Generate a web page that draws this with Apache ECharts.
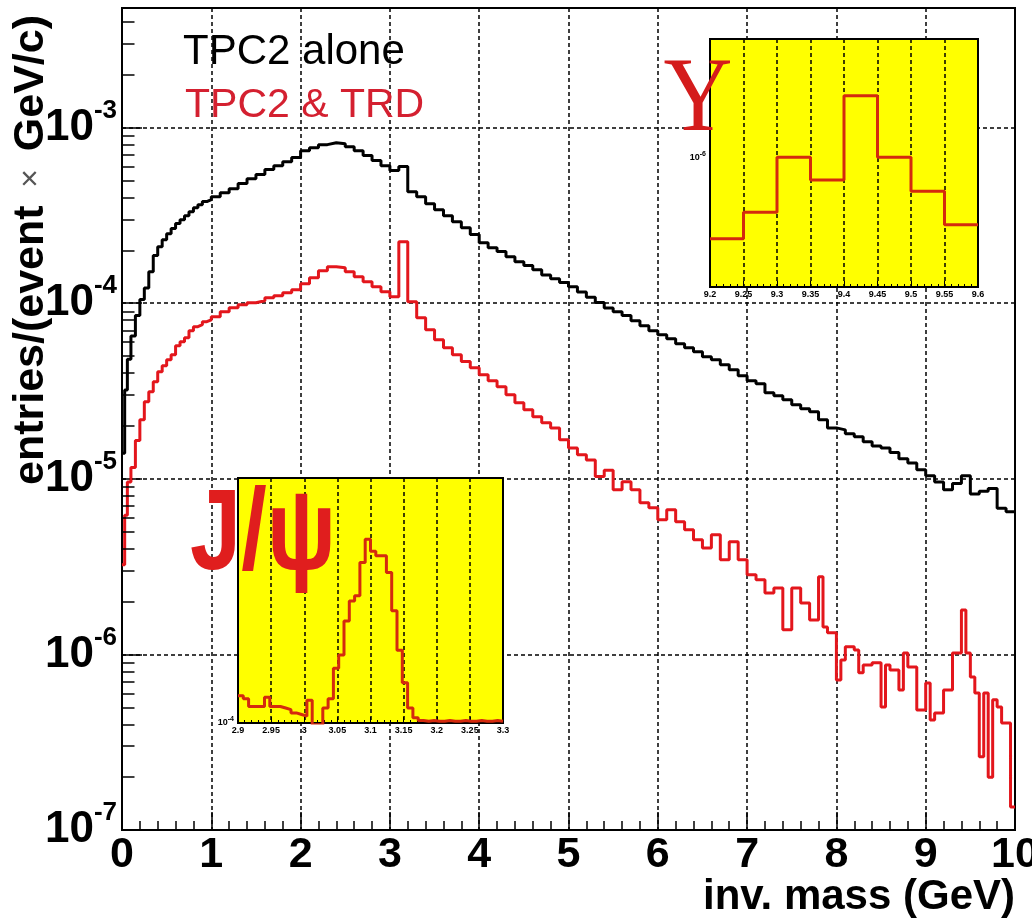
<!DOCTYPE html>
<html>
<head>
<meta charset="utf-8">
<title>inv. mass</title>
<script src="https://cdn.jsdelivr.net/npm/echarts@6.0.0/dist/echarts.min.js"></script>
<style>
  html, body { margin: 0; padding: 0; background: #fff; }
  #chart { width: 1032px; height: 918px; }
</style>
</head>
<body>
<div id="chart"></div>
<script>
// TPC2 alone: lower bin edge (GeV) and entries/(event x GeV/c)
var aloneEdges = [0, 0.03, 0.06, 0.1, 0.15, 0.2, 0.25, 0.3, 0.35, 0.4, 0.45, 0.5, 0.55, 0.6, 0.65, 0.7, 0.75, 0.8, 0.85, 0.9, 0.95,
  1.0, 1.1, 1.2, 1.3, 1.4, 1.5, 1.6, 1.7, 1.8, 1.9,
  2.0, 2.1, 2.2, 2.3, 2.4, 2.5, 2.6, 2.7, 2.8, 2.9,
  3.0, 3.1, 3.2, 3.3, 3.4, 3.5, 3.6, 3.7, 3.8, 3.9,
  4.0, 4.1, 4.2, 4.3, 4.4, 4.5, 4.6, 4.7, 4.8, 4.9,
  5.0, 5.1, 5.2, 5.3, 5.4, 5.5, 5.6, 5.7, 5.8, 5.9,
  6.0, 6.1, 6.2, 6.3, 6.4, 6.5, 6.6, 6.7, 6.8, 6.9,
  7.0, 7.1, 7.2, 7.3, 7.4, 7.5, 7.6, 7.7, 7.8, 7.9,
  8.0, 8.1, 8.2, 8.3, 8.4, 8.5, 8.6, 8.7, 8.8, 8.9,
  9.0, 9.1, 9.2, 9.3, 9.4, 9.5, 9.6, 9.7, 9.8, 9.9];
var aloneValues = [1.4e-5, 3.2e-5, 4.8e-5, 6.5e-5, 8.5e-5, 1.05e-4, 1.22e-4, 1.51e-4, 1.87e-4, 2.10e-4, 2.30e-4, 2.49e-4, 2.66e-4, 2.84e-4, 2.99e-4, 3.15e-4, 3.32e-4, 3.50e-4, 3.64e-4, 3.79e-4, 3.89e-4,
  4.04e-4, 4.26e-4, 4.49e-4, 4.80e-4, 5.12e-4, 5.40e-4, 5.77e-4, 6.07e-4, 6.40e-4, 6.75e-4,
  7.39e-4, 7.69e-4, 8.00e-4, 8.21e-4, 8.10e-4, 7.79e-4, 7.39e-4, 6.93e-4, 6.49e-4, 6.07e-4,
  5.69e-4, 6.00e-4, 4.32e-4, 4.04e-4, 3.69e-4, 3.41e-4, 3.15e-4, 2.91e-4, 2.69e-4, 2.46e-4,
  2.21e-4, 2.07e-4, 1.97e-4, 1.84e-4, 1.72e-4, 1.64e-4, 1.55e-4, 1.45e-4, 1.38e-4, 1.31e-4,
  1.24e-4, 1.16e-4, 1.08e-4, 1.01e-4, 9.4e-5, 8.95e-5, 8.5e-5, 7.95e-5, 7.44e-5, 6.97e-5,
  6.62e-5, 6.28e-5, 5.88e-5, 5.58e-5, 5.29e-5, 4.96e-5, 4.77e-5, 4.46e-5, 4.18e-5, 3.86e-5,
  3.62e-5, 3.48e-5, 3.09e-5, 2.97e-5, 2.82e-5, 2.64e-5, 2.51e-5, 2.41e-5, 2.17e-5, 1.95e-5,
  1.90e-5, 1.805e-5, 1.735e-5, 1.625e-5, 1.54e-5, 1.50e-5, 1.41e-5, 1.30e-5, 1.23e-5, 1.125e-5,
  1.04e-5, 9.6e-6, 8.65e-6, 9.4e-6, 1.04e-5, 8.2e-6, 8.5e-6, 8.8e-6, 6.8e-6, 6.5e-6];

// TPC2 & TRD
var trdEdges = [0, 0.03, 0.06, 0.1, 0.15, 0.2, 0.25, 0.3, 0.35, 0.4, 0.45, 0.5, 0.55, 0.6, 0.65, 0.7, 0.75, 0.8, 0.85, 0.9, 0.95,
  1.0, 1.1, 1.2, 1.3, 1.4, 1.5, 1.6, 1.7, 1.8, 1.9,
  2.0, 2.1, 2.2, 2.3, 2.4, 2.5, 2.6, 2.7, 2.8, 2.9,
  3.0, 3.1, 3.2, 3.3, 3.4, 3.5, 3.6, 3.7, 3.8, 3.9,
  4.0, 4.1, 4.2, 4.3, 4.4, 4.5, 4.6, 4.7, 4.8, 4.9,
  5.0, 5.1, 5.2, 5.3, 5.4, 5.5, 5.6, 5.7, 5.8, 5.9,
  6.0, 6.1, 6.2, 6.3, 6.4, 6.5, 6.6, 6.7, 6.8, 6.9,
  7.0, 7.1, 7.2, 7.3, 7.4, 7.5, 7.6, 7.7,
  7.8, 7.85, 7.9, 8.0, 8.05, 8.1, 8.2, 8.25, 8.3, 8.4, 8.5, 8.55, 8.6, 8.7, 8.75, 8.8, 8.9,
  9.0, 9.05, 9.1, 9.2, 9.3, 9.4, 9.45, 9.5, 9.55, 9.6, 9.65, 9.7, 9.75, 9.8, 9.85, 9.95];
var trdValues = [3.24e-6, 6.2e-6, 9.6e-6, 1.16e-5, 1.65e-5, 2.17e-5, 2.75e-5, 3.13e-5, 3.57e-5, 4.07e-5, 4.40e-5, 4.77e-5, 5.09e-5, 5.73e-5, 6.04e-5, 6.36e-5, 6.97e-5, 7.35e-5, 7.54e-5, 7.85e-5, 8.05e-5,
  8.38e-5, 8.95e-5, 9.43e-5, 9.80e-5, 1.007e-4, 1.033e-4, 1.075e-4, 1.104e-4, 1.148e-4, 1.194e-4,
  1.291e-4, 1.397e-4, 1.531e-4, 1.614e-4, 1.593e-4, 1.511e-4, 1.416e-4, 1.326e-4, 1.242e-4, 1.163e-4,
  1.089e-4, 2.24e-4, 1.02e-4, 8.27e-5, 7.06e-5, 6.19e-5, 5.58e-5, 5.09e-5, 4.65e-5, 4.29e-5,
  3.91e-5, 3.62e-5, 3.34e-5, 3.01e-5, 2.71e-5, 2.47e-5, 2.26e-5, 2.085e-5, 1.95e-5, 1.67e-5,
  1.50e-5, 1.37e-5, 1.28e-5, 1.03e-5, 1.12e-5, 8.66e-6, 9.62e-6, 8.66e-6, 7.30e-6, 6.84e-6,
  5.84e-6, 6.66e-6, 5.69e-6, 5.12e-6, 4.49e-6, 4.04e-6, 4.80e-6, 3.46e-6, 4.38e-6, 3.46e-6,
  2.84e-6, 2.66e-6, 2.24e-6, 2.39e-6, 1.38e-6, 2.39e-6, 1.965e-6, 1.57e-6,
  2.77e-6, 1.434e-6, 1.327e-6, 7.15e-7, 9.3e-7, 1.104e-6, 1.06e-6, 7.85e-7, 8.71e-7, 8.95e-7, 5.02e-7, 8.71e-7, 8.16e-7, 6.28e-7, 1.02e-6, 8.49e-7, 4.83e-7,
  6.88e-7, 4.23e-7, 4.64e-7, 6.28e-7, 1.02e-6, 1.79e-6, 1.02e-6, 7.44e-7, 6.03e-7, 2.61e-7, 6.03e-7, 2.0e-7, 5.51e-7, 5.02e-7, 4.07e-7, 1.35e-7];

// J/psi inset (TPC2 & TRD, 2.9 - 3.3 GeV)
var jpsiEdges = [2.900, 2.908, 2.916, 2.924, 2.932, 2.940, 2.948, 2.956, 2.964, 2.972,
  2.980, 2.988, 2.996, 3.004, 3.012, 3.020, 3.028, 3.036, 3.044, 3.052,
  3.060, 3.068, 3.076, 3.084, 3.092, 3.100, 3.108, 3.116, 3.124, 3.132,
  3.140, 3.148, 3.156, 3.164, 3.172, 3.180, 3.188, 3.196, 3.204, 3.212,
  3.220, 3.228, 3.236, 3.244, 3.252, 3.260, 3.268, 3.276, 3.284, 3.292];
var jpsiValues = [1.17e-4, 1.15e-4, 1.10e-4, 1.10e-4, 1.10e-4, 1.16e-4, 1.10e-4, 1.10e-4, 1.09e-4, 1.08e-4,
  1.06e-4, 1.05e-4, 1.04e-4, 1.14e-4, 0.99e-4, 0.99e-4, 1.09e-4, 1.15e-4, 1.37e-4, 1.48e-4,
  1.80e-4, 2.02e-4, 2.08e-4, 2.52e-4, 2.88e-4, 2.69e-4, 2.62e-4, 2.62e-4, 2.38e-4, 1.91e-4,
  1.52e-4, 1.26e-4, 1.09e-4, 1.03e-4, 1.015e-4, 1.01e-4, 1.015e-4, 1.01e-4, 1.01e-4, 1.015e-4,
  1.01e-4, 1.01e-4, 1.015e-4, 1.01e-4, 1.01e-4, 1.015e-4, 1.01e-4, 1.01e-4, 1.015e-4, 1.01e-4];
var jpsiGrid = [2e-4, 3e-4];

// Upsilon inset (9.2 - 9.6 GeV)
var upsEdges = [9.2, 9.25, 9.3, 9.35, 9.4, 9.45, 9.5, 9.55];
var upsValues = [4.7e-7, 6.0e-7, 1.0e-6, 8.1e-7, 1.77e-6, 1.0e-6, 7.3e-7, 5.35e-7];
var upsGrid = [2e-6, 1e-6, 9e-7, 8e-7, 7e-7, 6e-7, 5e-7, 4e-7];

// log minor ticks on the main y axis
var decades = [-7, -6, -5, -4, -3];
var minorMult = [2, 3, 4, 5, 6, 7, 8, 9];

var SANS = '"Liberation Sans", Arial, Helvetica, sans-serif';
var RED = '#e3161c';
var INSET_RED = '#d42a0e';
var DASH = {color: '#000', width: 1.5, type: [4, 3]};

function histo(edges, values, end) {
  var out = [];
  for (var i = 0; i < edges.length; i++) out.push([edges[i], values[i]]);
  out.push([end, values[values.length - 1]]);
  return out;
}

function powLabel(v) {
  var e = Math.log10(v);
  var r = Math.round(e);
  if (Math.abs(e - r) > 1e-6) return '';
  return '{b|10}{s|' + r + '}';
}

var yMax = 4.8e-3;
var leftTicks = [];
for (var d of decades) {
  for (var m of minorMult) {
    var v = m * Math.pow(10, d);
    if (v < yMax) leftTicks.push([{coord: [0, v]}, {coord: [0.14, v]}]);
  }
}

var option = {
  animation: false,
  backgroundColor: '#fff',
  grid: [
    {left: 122, top: 8, width: 893, height: 822, show: true, borderColor: '#000', borderWidth: 2, z: 0,
     containLabel: false, outerBoundsMode: 'none'},
    {left: 710, top: 39, width: 268, height: 248, show: true, backgroundColor: '#ffff00', borderColor: '#000', borderWidth: 2, z: 10,
     containLabel: false, outerBoundsMode: 'none'},
    {left: 238, top: 478, width: 265, height: 245, show: true, backgroundColor: '#ffff00', borderColor: '#000', borderWidth: 2, z: 10,
     containLabel: false, outerBoundsMode: 'none'}
  ],
  xAxis: [
    {
      gridIndex: 0, type: 'value', min: 0, max: 10, interval: 1,
      axisLine: {show: true, onZero: false, lineStyle: {color: '#000', width: 2}},
      axisTick: {show: true, inside: true, length: 18, lineStyle: {color: '#000', width: 1.5}},
      minorTick: {show: true, splitNumber: 5, length: 9, lineStyle: {color: '#000', width: 1.5}},
      splitLine: {show: true, lineStyle: DASH},
      axisLabel: {color: '#000', fontSize: 43, fontWeight: 'bold', fontFamily: SANS, margin: 4}
    },
    {
      gridIndex: 1, type: 'value', min: 9.2, max: 9.6, interval: 0.05, z: 11,
      axisLine: {show: true, onZero: false, lineStyle: {color: '#000', width: 2}},
      axisTick: {show: true, inside: true, length: 6, lineStyle: {color: '#000'}},
      minorTick: {show: true, splitNumber: 5, length: 3, lineStyle: {color: '#000'}},
      splitLine: {show: true, lineStyle: DASH},
      axisLabel: {color: '#000', fontSize: 9, fontWeight: 'bold', fontFamily: SANS, margin: 3}
    },
    {
      gridIndex: 2, type: 'value', min: 2.9, max: 3.3, interval: 0.05, z: 11,
      axisLine: {show: true, onZero: false, lineStyle: {color: '#000', width: 2}},
      axisTick: {show: true, inside: true, length: 6, lineStyle: {color: '#000'}},
      minorTick: {show: true, splitNumber: 5, length: 3, lineStyle: {color: '#000'}},
      splitLine: {show: true, lineStyle: DASH},
      axisLabel: {color: '#000', fontSize: 9, fontWeight: 'bold', fontFamily: SANS, margin: 3}
    }
  ],
  yAxis: [
    {
      gridIndex: 0, type: 'log', logBase: 10, min: 1e-7, max: yMax,
      axisLine: {show: true, lineStyle: {color: '#000', width: 2}},
      axisTick: {show: true, inside: true, length: 20, lineStyle: {color: '#000', width: 1.5}},
      splitLine: {show: true, lineStyle: DASH},
      axisLabel: {
        margin: 5, formatter: powLabel,
        rich: {
          b: {fontSize: 44, fontWeight: 'bold', fontFamily: SANS, color: '#000', lineHeight: 60},
          s: {fontSize: 26, fontWeight: 'bold', fontFamily: SANS, color: '#000', lineHeight: 26, verticalAlign: 'top'}
        }
      }
    },
    {
      gridIndex: 1, type: 'log', logBase: 10, min: 3e-7, max: 3e-6, z: 11,
      axisLine: {show: true, lineStyle: {color: '#000', width: 2}},
      axisTick: {show: false},
      splitLine: {show: false},
      axisLabel: {
        margin: 4, formatter: powLabel,
        rich: {
          b: {fontSize: 9, fontWeight: 'bold', fontFamily: SANS, color: '#000', lineHeight: 14},
          s: {fontSize: 7, fontWeight: 'bold', fontFamily: SANS, color: '#000', lineHeight: 7, verticalAlign: 'top'}
        }
      }
    },
    {
      gridIndex: 2, type: 'log', logBase: 10, min: 1e-4, max: 4.1e-4, z: 11,
      axisLine: {show: true, lineStyle: {color: '#000', width: 2}},
      axisTick: {show: false},
      splitLine: {show: false},
      axisLabel: {
        margin: 4, formatter: powLabel,
        rich: {
          b: {fontSize: 9, fontWeight: 'bold', fontFamily: SANS, color: '#000', lineHeight: 14},
          s: {fontSize: 7, fontWeight: 'bold', fontFamily: SANS, color: '#000', lineHeight: 7, verticalAlign: 'top'}
        }
      }
    }
  ],
  series: [
    {
      name: 'TPC2 alone', type: 'line', xAxisIndex: 0, yAxisIndex: 0, step: 'end',
      data: histo(aloneEdges, aloneValues, 10), showSymbol: false, symbol: 'none', clip: true, z: 3,
      lineStyle: {color: '#000', width: 3},
      markLine: {
        silent: true, symbol: ['none', 'none'], label: {show: false},
        lineStyle: {color: '#000', width: 1.5, type: 'solid'},
        data: leftTicks
      }
    },
    {
      name: 'TPC2 & TRD', type: 'line', xAxisIndex: 0, yAxisIndex: 0, step: 'end',
      data: histo(trdEdges, trdValues, 10), showSymbol: false, symbol: 'none', clip: true, z: 3,
      lineStyle: {color: RED, width: 3}
    },
    {
      name: 'Upsilon', type: 'line', xAxisIndex: 1, yAxisIndex: 1, step: 'end',
      data: histo(upsEdges, upsValues, 9.6), showSymbol: false, symbol: 'none', clip: true, z: 12,
      lineStyle: {color: INSET_RED, width: 3},
      markLine: {
        silent: true, symbol: ['none', 'none'], label: {show: false},
        lineStyle: DASH,
        data: upsGrid.map(function (v) { return {yAxis: v}; })
      }
    },
    {
      name: 'J/psi', type: 'line', xAxisIndex: 2, yAxisIndex: 2, step: 'end',
      data: histo(jpsiEdges, jpsiValues, 3.3), showSymbol: false, symbol: 'none', clip: true, z: 12,
      lineStyle: {color: INSET_RED, width: 3},
      markLine: {
        silent: true, symbol: ['none', 'none'], label: {show: false},
        lineStyle: DASH,
        data: jpsiGrid.map(function (v) { return {yAxis: v}; })
      }
    }
  ],
  graphic: [
    {
      type: 'text', x: 183, y: 52, z: 30,
      style: {text: 'TPC2 alone', fontSize: 42, fontFamily: SANS, fill: '#000', align: 'left', verticalAlign: 'middle'}
    },
    {
      type: 'text', x: 185, y: 106, z: 30,
      style: {text: 'TPC2 & TRD', fontSize: 41, fontFamily: SANS, fill: '#d42030', align: 'left', verticalAlign: 'middle'}
    },
    {
      type: 'text', x: 263, y: 537, z: 30, scaleX: 0.8,
      style: {text: 'J/\u03c8', fontSize: 115, fontWeight: 'bold', fontFamily: SANS, fill: '#e01e1e', align: 'center', verticalAlign: 'middle'}
    },
    {
      type: 'text', x: 698, y: 102, z: 30, scaleX: 0.9,
      style: {text: '\u03a5', fontSize: 106, fontFamily: '"Liberation Serif", "DejaVu Serif", serif', fill: '#d41c1c', align: 'center', verticalAlign: 'middle'}
    },
    {
      type: 'text', x: 31, y: 250, z: 30, rotation: Math.PI / 2,
      style: {
        text: '{b|entries/(event}{x|  \u00d7  }{b|GeV/c)}',
        align: 'center', verticalAlign: 'middle',
        rich: {
          b: {fontSize: 43, fontWeight: 'bold', fontFamily: SANS, fill: '#000', color: '#000'},
          x: {fontSize: 32, fontFamily: SANS, fill: '#555', color: '#555'}
        }
      }
    },
    {
      type: 'text', x: 1015, y: 897, z: 30,
      style: {text: 'inv. mass (GeV)', fontSize: 42, fontWeight: 'bold', fontFamily: SANS, fill: '#000', align: 'right', verticalAlign: 'middle'}
    }
  ]
};

var chart = echarts.init(document.getElementById('chart'));
chart.setOption(option);
</script>
</body>
</html>
